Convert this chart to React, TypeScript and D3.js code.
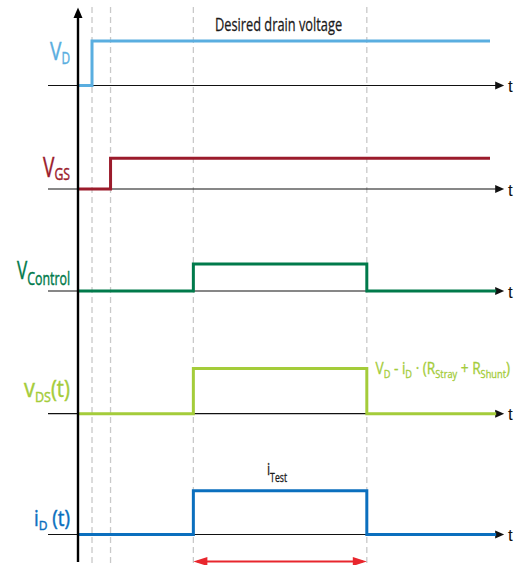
import React, { useLayoutEffect, useRef, useState } from "react";
import * as d3 from "d3";

// ---- data ----
const markerTimes = [3.4, 7.9, 28, 70.1];
const vdTimes = [0, 3.4, 100];
const vdValues = [0, 1, 1];
const vgsTimes = [0, 7.9, 100];
const vgsValues = [0, 1, 1];
const vcTimes = [0, 28, 70.1, 101.5];
const vcValues = [0, 1, 0, 0];
const vdsTimes = [0, 28, 70.1, 101.5];
const vdsValues = [0, 1, 0, 0];
const idTimes = [0, 28, 70.1, 101.5];
const idValues = [0, 1, 0, 0];
const axisLabel = "t";

// ---- layout ----
const W = 525;
const H = 565;
const rows = [
  { base: 85.5, top: 41, color: "#5aaee0", times: vdTimes, values: vdValues },
  { base: 189, top: 158.3, color: "#9b1b2b", times: vgsTimes, values: vgsValues },
  { base: 291, top: 264, color: "#007a4b", times: vcTimes, values: vcValues },
  { base: 413.7, top: 368.5, color: "#a4cc3a", times: vdsTimes, values: vdsValues },
  { base: 534.5, top: 490.7, color: "#0b6fbe", times: idTimes, values: idValues },
];

const x = d3.scaleLinear().domain([0, 100]).range([78, 490]);
const humanist = "'Open Sans', 'Noto Sans', sans-serif";

function FitText(props: { x: number; y: number; w: number; fill: string; sw?: number; children: any }) {
  const ref = useRef<SVGTextElement>(null);
  const [s, setS] = useState(0.7);
  useLayoutEffect(() => {
    const el = ref.current;
    if (!el) return;
    const n = el.getComputedTextLength();
    if (n > 0) setS(props.w / n);
  }, [props.w]);
  return (
    <g transform={`translate(${props.x},${props.y}) scale(${s},1)`}>
      <text ref={ref} fill={props.fill} stroke={props.fill} strokeWidth={props.sw ?? 0.45} fontFamily={humanist}>
        {props.children}
      </text>
    </g>
  );
}

export default function App() {
  const axisEnd = x(101.5);
  return (
    <svg width={W} height={H} style={{ position: "absolute", left: 0, top: 0 }}>
      <rect width={W} height={H} fill="#fff" />
      {/* dashed markers */}
      {markerTimes.map((t, i) => (
        <line key={i} x1={x(t)} x2={x(t)} y1={7} y2={563} stroke="#c9c9c9" strokeWidth={1.3} strokeDasharray="6,4" />
      ))}
      {/* baselines with arrows */}
      {rows.map((r, i) => (
        <g key={i}>
          <line x1={48} x2={axisEnd} y1={r.base} y2={r.base} stroke="#111" strokeWidth={1.2} />
          <path d={`M${axisEnd + 8},${r.base} L${axisEnd - 1},${r.base - 4} L${axisEnd - 1},${r.base + 4} Z`} fill="#111" />
          <text x={508} y={r.base + 6.5} fontFamily="'Liberation Sans', Arial, sans-serif" fontSize={17} fill="#111">
            {axisLabel}
          </text>
        </g>
      ))}
      {/* signals */}
      {rows.map((r, i) => {
        const y = d3.scaleLinear().domain([0, 1]).range([r.base, r.top]);
        const line = d3
          .line<number>()
          .x((d, j) => x(r.times[j]))
          .y((d) => y(d))
          .curve(d3.curveStepAfter);
        return <path key={i} d={line(r.values) || ""} fill="none" stroke={r.color} strokeWidth={3} strokeLinejoin="miter" />;
      })}
      {/* vertical axis */}
      <line x1={78} x2={78} y1={17} y2={562} stroke="#000" strokeWidth={2.4} />
      <path d="M78,7.5 L82.5,18 L73.5,18 Z" fill="#000" />
      {/* red double arrow */}
      <line x1={x(28) + 4} x2={x(70.1) - 4} y1={561.5} y2={561.5} stroke="#e8262d" strokeWidth={2} />
      <path d={`M${x(28)},561.5 L${x(28) + 14},557 L${x(28) + 14},566 Z`} fill="#e8262d" />
      <path d={`M${x(70.1)},561.5 L${x(70.1) - 14},557 L${x(70.1) - 14},566 Z`} fill="#e8262d" />

      {/* labels */}
      <FitText x={50} y={60} w={20} fill="#5aaee0">
        <tspan fontSize={25}>V</tspan>
        <tspan fontSize={15.5} dy={4}>D</tspan>
      </FitText>
      <FitText x={43} y={177} w={27} fill="#9b1b2b">
        <tspan fontSize={26.5}>V</tspan>
        <tspan fontSize={17} dy={3}>GS</tspan>
      </FitText>
      <FitText x={17} y={279} w={53} fill="#007a4b">
        <tspan fontSize={25}>V</tspan>
        <tspan fontSize={18} dy={6}>Control</tspan>
      </FitText>
      <FitText x={24} y={397} w={46} fill="#a4cc3a">
        <tspan fontSize={26}>v</tspan>
        <tspan fontSize={15} dy={4.5}>DS</tspan>
        <tspan fontSize={24} dy={-4.5}>(t)</tspan>
      </FitText>
      <FitText x={34} y={526} w={36} fill="#0b6fbe">
        <tspan fontSize={21}>i</tspan>
        <tspan fontSize={13.5} dy={4}>D</tspan>
        <tspan fontSize={21} dy={-4}> (t)</tspan>
      </FitText>
      <FitText x={215} y={30.5} w={127} fill="#1a1a1a" sw={0.3}>
        <tspan fontSize={19}>Desired drain voltage</tspan>
      </FitText>
      <FitText x={267} y={475} w={20} fill="#1a1a1a" sw={0.3}>
        <tspan fontSize={17}>i</tspan>
        <tspan fontSize={12} dy={7}>Test</tspan>
      </FitText>
      <FitText x={375.5} y={373.5} w={134.5} fill="#a4cc3a" sw={0.3}>
        <tspan fontSize={15.5}>V</tspan>
        <tspan fontSize={10.5} dy={4}>D</tspan>
        <tspan fontSize={15.5} dy={-4}> - i</tspan>
        <tspan fontSize={10.5} dy={4}>D</tspan>
        <tspan fontSize={15.5} dy={-4}> · (R</tspan>
        <tspan fontSize={10.5} dy={4}>Stray</tspan>
        <tspan fontSize={15.5} dy={-4}> + R</tspan>
        <tspan fontSize={10.5} dy={4}>Shunt</tspan>
        <tspan fontSize={15.5} dy={-4}>)</tspan>
      </FitText>
    </svg>
  );
}
